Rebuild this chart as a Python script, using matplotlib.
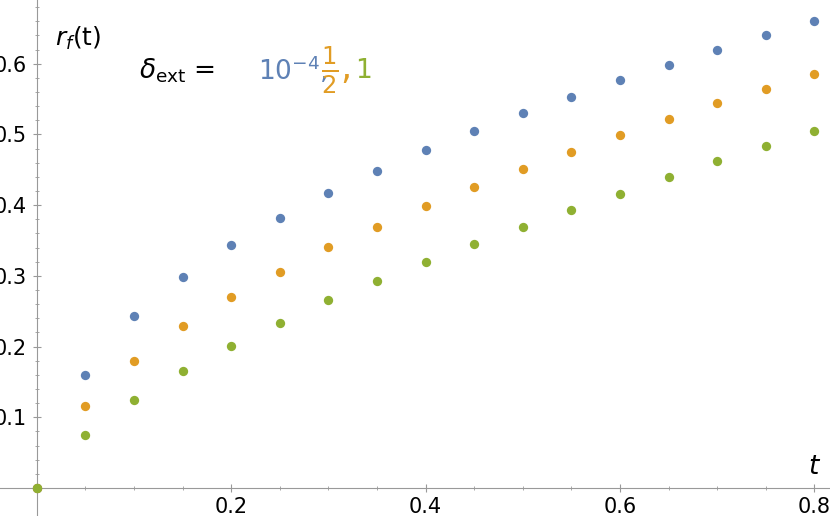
import matplotlib
matplotlib.use("Agg")
import matplotlib.pyplot as plt

t = [0.0] + [round(0.05 * i, 2) for i in range(1, 17)]
blue = [0.0, 0.160, 0.243, 0.299, 0.343, 0.382, 0.417, 0.448, 0.478, 0.505, 0.530, 0.553, 0.577, 0.598, 0.620, 0.640, 0.660]
orange = [0.0, 0.116, 0.180, 0.229, 0.270, 0.305, 0.341, 0.369, 0.399, 0.426, 0.451, 0.475, 0.499, 0.522, 0.544, 0.564, 0.585]
green = [0.0, 0.075, 0.124, 0.165, 0.201, 0.233, 0.266, 0.293, 0.319, 0.345, 0.369, 0.393, 0.416, 0.440, 0.462, 0.483, 0.505]
xticks = [0.2, 0.4, 0.6, 0.8]
yticks = [0.1, 0.2, 0.3, 0.4, 0.5, 0.6]

fig = plt.figure(figsize=(8.3, 5.16), dpi=100)
ax = fig.add_axes([0, 0, 1, 1])
ax.set_xlim(-0.0378, 0.816)
ax.set_ylim(-0.0396, 0.69)
for s in ["top", "right"]:
    ax.spines[s].set_visible(False)
ax.spines["left"].set_position(("data", 0))
ax.spines["bottom"].set_position(("data", 0))
for s in ["left", "bottom"]:
    ax.spines[s].set_color("#999999")
cols = ["#5E81B5", "#E19C24", "#8FB032"]
for ys, c in zip([blue, orange, green], cols):
    ax.scatter(t, ys, s=45, color=c, zorder=3, linewidths=0)
ax.set_xticks(xticks)
ax.set_xticklabels([f"{v:.1f}" for v in xticks])
ax.set_yticks(yticks)
ax.set_yticklabels([f"{v:.1f}" for v in yticks])
ax.set_xticks([0.05 * i for i in range(1, 17)], minor=True)
ax.set_yticks([0.02 * i for i in range(1, 35)], minor=True)
ax.tick_params(which="both", direction="inout", color="#999999", labelsize=15)
ax.tick_params(which="major", length=6)
ax.tick_params(which="minor", length=3)
ax.tick_params(axis="y", pad=4)
ax.text(0.019, 0.635, r"$r_f$(t)", fontsize=18, ha="left", va="center")
ax.text(0.8, 0.03, r"$t$", fontsize=19, ha="center", va="center")
ax.text(0.105, 0.59, r"$\delta_{\rm ext}$ =", fontsize=19, ha="left", va="center")
ax.text(0.228, 0.59, r"$10^{-4}$,", fontsize=19, color=cols[0], ha="left", va="center")
ax.text(0.292, 0.59, r"$\frac{1}{2}$,", fontsize=25, color=cols[1], ha="left", va="center")
ax.text(0.327, 0.59, "1", fontsize=19, color=cols[2], ha="left", va="center")
fig.savefig("out.png", dpi=100)
